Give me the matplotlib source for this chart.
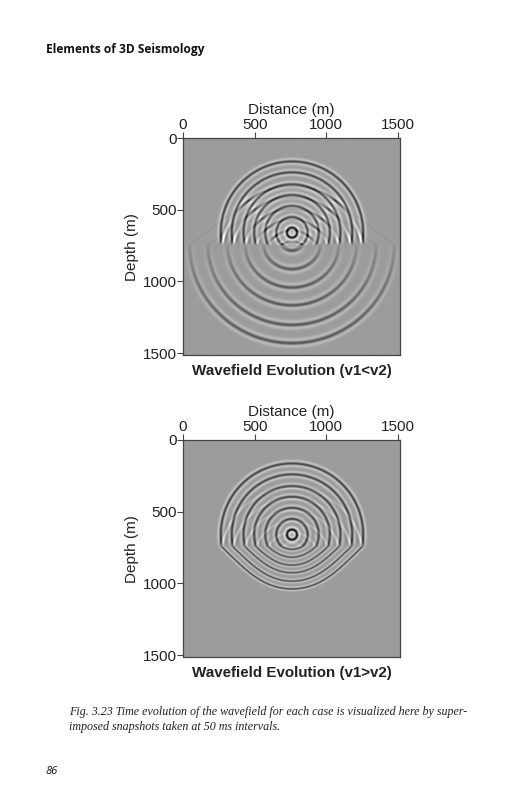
import numpy as np
import matplotlib
matplotlib.use("Agg")
import matplotlib.pyplot as plt

# values (metres, m/s)
ring_radii = [35, 109, 186, 263, 337, 419, 495]
ring_strengths = [1.15, 0.72, 0.68, 0.68, 0.68, 0.7, 0.72]
source_x = 758
source_z = 665
interface_z = 750
axis_max = 1516
v_upper = 1500
v_lower_slow_case = 2500
v_lower_fast_case = 1070
tick_values = [0, 500, 1000, 1500]
titles = ["Wavefield Evolution (v1<v2)", "Wavefield Evolution (v1>v2)"]
axes_tops = [138, 440]

W, H = 531, 800
GRAY_BG = 0.61


def ricker(t, t0, width):
    u = (t - t0) / width
    return (1 - 2 * u ** 2) * np.exp(-u ** 2)


# superimposed snapshots for a two layer model
def wavefield(v1, v2, n=434):
    xs = (np.arange(n) + 0.5) / n * axis_max
    zs = xs.copy()
    X, Z = np.meshgrid(xs, zs)
    dx = np.abs(X - source_x)
    h = interface_z - source_z
    upper = Z < interface_z
    pulse = 0.0092
    pulse_low = 0.0074 if v2 > v1 else 0.0088

    # direct and reflected times in the top layer
    r_dir = np.hypot(dx, Z - source_z)
    r_ref = np.hypot(dx, Z - (2 * interface_z - source_z))
    sin1 = dx / np.maximum(r_ref, 1)
    cos1 = np.sqrt(1 - sin1 ** 2)
    cos2 = np.sqrt((1 - (v2 / v1 * sin1) ** 2).astype(complex))
    refl = ((v2 * cos1 - v1 * cos2) / (v2 * cos1 + v1 * cos2)).real

    # transmitted times, smallest path over the interface crossing point
    x0 = np.linspace(0, 900, 451)
    t_tr = np.zeros_like(X)
    leg1 = np.hypot(x0, h) / v1
    for i, z in enumerate(zs):
        d = max(z - interface_z, 0)
        t_tr[i] = (leg1 + np.hypot(dx[i][:, None] - x0, d) / v2).min(axis=1)
    tilt = np.maximum(Z - interface_z, 0) / np.maximum(np.hypot(dx, Z - interface_z), 1)

    f = np.zeros_like(X)
    for r, amp in zip(ring_radii, ring_strengths):
        t0 = r / v1
        f[upper] -= amp * ricker(r_dir[upper] / v1, t0, pulse)
        refl_gain = 1.25 if v2 > v1 else 0.9
        f[upper] -= refl_gain * amp * (refl * ricker(r_ref / v1, t0, pulse))[upper]
        if v2 > v1:
            low = 0.8 * amp * (0.15 + 0.85 * tilt ** 0.8)
            # faint head wave
            sin_c = v1 / v2
            cos_c = np.sqrt(1 - sin_c ** 2)
            t_head = dx / v2 + (h + interface_z - Z) * cos_c / v1
            side = dx > (h + interface_z - Z) * sin_c / cos_c + h * sin_c / cos_c
            head = np.where(upper & side, ricker(t_head, t0, pulse), 0)
            f -= 0.05 * head
        else:
            low = 1.0 * amp
        f[~upper] -= (low * ricker(t_tr, t0, pulse_low))[~upper]
    return f


plt.rcParams["font.family"] = ["Liberation Sans"]
fig = plt.figure(figsize=(W / 100, H / 100), dpi=100)
cases = [v_lower_slow_case, v_lower_fast_case]

for top, title, v2 in zip(axes_tops, titles, cases):
    ax = fig.add_axes([183 / W, 1 - (top + 217.3) / H, 217.3 / W, 217.3 / H])
    ax.imshow(wavefield(v_upper, v2), cmap="gray", vmin=-1.2, vmax=-1.2 + 1.2 / GRAY_BG,
              extent=[0, axis_max, axis_max, 0], interpolation="bilinear", aspect="auto")
    ax.xaxis.tick_top()
    ax.xaxis.set_label_position("top")
    ax.set_xticks(tick_values)
    ax.set_yticks(tick_values)
    ax.tick_params(length=4, width=0.8, color="#444444", labelsize=11, pad=0.5, labelcolor="#222222")
    ax.set_xlabel("Distance (m)", fontsize=11, color="#222222", labelpad=3)
    ax.set_ylabel("Depth (m)", fontsize=11, color="#222222", labelpad=3)
    for s in ax.spines.values():
        s.set_color("#444444")
        s.set_linewidth(0.9)
    fig.text(291.5 / W, 1 - (top + 233.5) / H, title, fontsize=10.9, fontweight="bold",
             color="#222222", ha="center", va="center")

fig.text(46 / W, 1 - 49.5 / H, "Elements of 3D Seismology", fontsize=8.6, fontweight="bold",
         family="Open Sans", color="#111111", va="center")
fig.text(69 / W, 1 - 712 / H,
         "Fig. 3.23 Time evolution of the wavefield for each case is visualized here by super-",
         fontsize=8.66, style="italic", family="Liberation Serif", color="#222222", va="center")
fig.text(69 / W, 1 - 727 / H, "imposed snapshots taken at 50 ms intervals.",
         fontsize=8.66, style="italic", family="Liberation Serif", color="#222222", va="center")
fig.text(46 / W, 1 - 771 / H, "86", fontsize=8, style="italic", family="Open Sans",
         color="#111111", va="center")

fig.savefig("out.png", dpi=100)
